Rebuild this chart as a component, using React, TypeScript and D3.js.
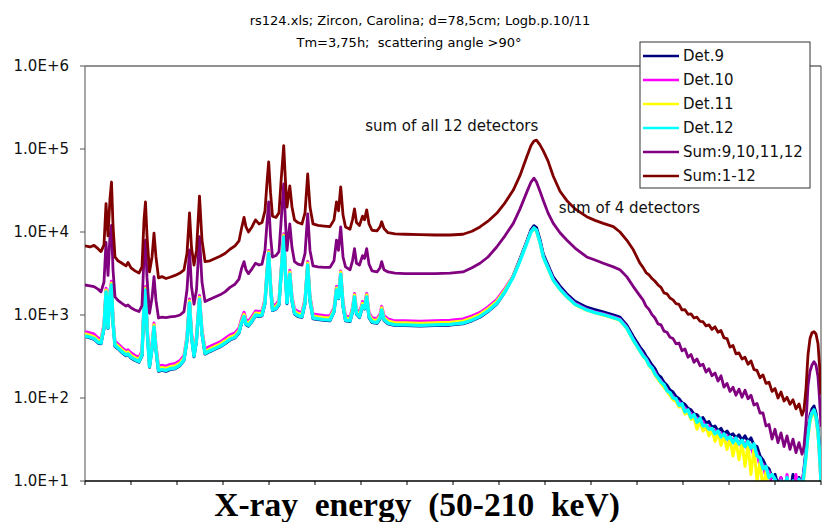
import React from 'react';
import * as d3 from 'd3';

// X-ray energy grid (keV)
const energy = [
  50.0, 51.09, 51.96, 52.83, 53.48, 54.13, 54.57, 55.0, 55.43, 55.76,
  56.09, 56.52, 57.17, 58.04, 58.91, 59.35, 60.0, 60.87, 61.74, 62.39,
  62.83, 63.15, 63.48, 64.02, 64.57, 65.0, 65.43, 65.98, 66.74, 67.61,
  68.48, 69.57, 70.65, 71.52, 72.17, 72.72, 73.15, 73.7, 74.24, 74.89,
  75.43, 76.09, 77.17, 78.26, 79.35, 80.43, 81.52, 82.61, 83.48, 84.02,
  84.57, 85.0, 85.54, 86.3, 87.07, 87.83, 88.48, 89.13, 89.57, 89.93,
  90.33, 90.76, 91.52, 92.17, 92.61, 93.2, 93.59, 93.91, 94.52, 95.0,
  95.54, 96.3, 97.17, 97.83, 98.41, 98.91, 99.57, 100.65, 101.96, 103.26,
  104.13, 104.67, 105.11, 105.59, 106.09, 106.63, 107.61, 108.15, 108.59, 109.02,
  109.67, 110.33, 110.76, 111.24, 111.74, 112.39, 113.48, 114.13, 114.5, 115.0,
  115.87, 117.39, 119.57, 122.83, 126.09, 129.35, 132.17, 134.13, 135.87, 137.61,
  139.5, 141.3, 143.11, 144.57, 146.02, 146.96, 147.61, 148.15, 148.91, 149.63,
  150.65, 151.8, 153.26, 154.72, 156.52, 159.07, 160.87, 162.67, 164.85, 166.3,
  167.76, 169.2,
  170.65, 171.3, 171.96, 172.61, 173.26, 173.91, 174.57, 175.22, 175.87, 176.52,
  177.17, 177.83, 178.48, 179.13, 179.78, 180.43, 181.09, 181.74, 182.39, 183.04,
  183.7, 184.35, 185.0, 185.65, 186.3, 186.96, 187.61, 188.26, 188.91, 189.57,
  190.22, 190.87, 191.52, 192.17, 192.83, 193.48, 194.13, 194.78, 195.43, 196.09,
  196.74, 197.39, 198.04, 198.7, 199.35, 200.0, 200.65, 201.3, 201.96, 202.61,
  203.26, 203.91, 204.57, 205.22, 205.87,
  206.3, 206.74, 207.17, 207.61, 208.04, 208.48, 208.91, 209.35, 209.67, 210.0,
];

const sumAll = [
  6800, 6600, 6900, 6300, 5800, 7000, 22000, 9000, 25000, 40000,
  12000, 5000, 4500, 4200, 3900, 4300, 3700, 3400, 3200, 3800,
  14000, 23000, 9000, 3300, 5000, 9700, 5000, 2800, 2900, 2750,
  2850, 3000, 3200, 3500, 5500, 17000, 6500, 4000, 6000, 27000,
  8000, 4400, 4500, 4800, 5100, 5500, 6200, 6800, 7800, 11000,
  15000, 11500, 10000, 11500, 14000, 12500, 13000, 18000, 40000, 70000,
  30000, 15500, 15000, 17000, 40000, 110000, 40000, 20000, 36000, 20000,
  14000, 13000, 12500, 17000, 50000, 20000, 12500, 12000, 11800, 11600,
  14000, 23000, 18000, 35000, 16000, 11500, 10800, 14000, 19000, 13000,
  12000, 15500, 14000, 18500, 12500, 10500, 10300, 11500, 13300, 11000,
  9800, 9500, 9400, 9300, 9200, 9200, 9400, 10200, 11500, 13500,
  16800, 22500, 32000, 48000, 80000, 110000, 125000, 128000, 112000, 95000,
  72000, 47000, 31000, 24000, 19000, 15300, 13800, 12700, 11600, 10000,
  8000, 6100,
  4200, 3750, 3250, 3050, 2750, 2550, 2300, 2150, 1850, 1800,
  1600, 1520, 1370, 1340, 1150, 1160, 1020, 1030, 920, 940,
  840, 830, 740, 760, 670, 720, 620, 650, 530, 520,
  410, 430, 340, 350, 295, 310, 255, 280, 220, 215,
  175, 190, 150, 155, 120, 130, 100, 118, 92, 102,
  84, 95, 74, 85, 62,
  72, 130, 330, 520, 610, 630, 590, 450, 250, 110,
];

const sum4 = [
  2300, 2250, 2200, 2050, 1900, 2500, 7500, 3000, 9000, 12000,
  3500, 1650, 1500, 1380, 1280, 1320, 1220, 1150, 1100, 1300,
  5000, 8000, 2800, 1050, 1600, 2900, 1500, 920, 940, 930,
  950, 960, 1000, 1100, 2000, 6100, 2200, 1350, 2000, 8800,
  2500, 1450, 1550, 1650, 1750, 1900, 2150, 2350, 2700, 3600,
  4400, 3500, 3150, 3600, 4200, 4000, 4100, 6000, 13000, 23000,
  9000, 5000, 5200, 5800, 13000, 38000, 13000, 6000, 12500, 6500,
  4400, 4100, 4000, 5500, 16500, 6000, 3900, 3800, 3750, 3750,
  4500, 8000, 6000, 11500, 5000, 3800, 3500, 4500, 6300, 4200,
  4000, 5200, 4800, 6300, 4100, 3400, 3300, 3700, 4400, 3500,
  3300, 3200, 3150, 3150, 3150, 3200, 3300, 3700, 4200, 5000,
  6600, 9000, 12700, 19000, 30000, 40000, 44500, 40000, 31000, 24000,
  17000, 12700, 9800, 8000, 6400, 5000, 4600, 4200, 3800, 3500,
  2900, 2200,
  1700, 1520, 1280, 1170, 1010, 920, 780, 760, 640, 620,
  540, 520, 450, 460, 370, 390, 310, 335, 270, 295,
  245, 255, 205, 225, 185, 200, 160, 185, 135, 150,
  120, 135, 108, 128, 102, 124, 98, 108, 82, 86,
  66, 66, 46, 48, 32, 42, 29, 38, 26, 35,
  24, 32, 22, 29, 21,
  26, 50, 140, 210, 250, 274, 250, 180, 100, 45,
];

const det9 = [
  550, 530, 510, 460, 450, 690, 1860, 690, 1760, 2250,
  785, 420, 392, 353, 323, 333, 304, 284, 270, 323,
  1270, 1960, 690, 235, 392, 705, 372, 210, 216, 210,
  220, 225, 245, 284, 490, 1370, 540, 314, 490, 1520,
  590, 338, 363, 387, 412, 450, 500, 530, 608, 785,
  940, 765, 735, 833, 980, 960, 980, 1370, 3140, 5400,
  2160, 1130, 1180, 1320, 2940, 8500, 2940, 1370, 3040, 1470,
  1030, 960, 940, 1370, 3920, 1470, 900, 880, 862, 853,
  1080, 1960, 1570, 3040, 1270, 853, 833, 1080, 1620, 1030,
  930, 1270, 1180, 1620, 930, 813, 794, 900, 1130, 862,
  784, 745, 745, 735, 745, 755, 784, 853, 940, 1100,
  1350, 1900, 3000, 4750, 7700, 10600, 11900, 11300, 8100, 5400,
  4000, 2850, 2220, 1800, 1460, 1240, 1160, 1090, 1005, 940,
  760, 550,
  410, 370, 320, 285, 250, 225, 190, 178, 155, 142,
  125, 118, 104, 98, 88, 84, 75, 72, 64, 63,
  56, 58, 50, 52, 44, 46, 40, 43, 37, 40,
  35, 37, 33, 36, 31, 35, 30, 33, 27, 26,
  20, 18, 15, 14, 11, 12, 9, 11, 8, 11,
  7, 12, 8, 11, 9,
  14, 24, 42, 62, 74, 80, 66, 44, 25, 11,
];

const det10 = [
  630, 610, 590, 530, 515, 780, 2100, 790, 2000, 2550,
  900, 485, 450, 405, 370, 380, 350, 325, 310, 370,
  1450, 2200, 790, 270, 450, 800, 430, 242, 248, 242,
  254, 260, 282, 326, 560, 1560, 620, 360, 560, 1720,
  675, 390, 418, 446, 474, 520, 575, 610, 700, 900,
  1080, 880, 845, 955, 1120, 1100, 1120, 1570, 3550, 6000,
  2450, 1290, 1345, 1510, 3350, 9500, 3350, 1570, 3450, 1680,
  1180, 1100, 1075, 1570, 4400, 1680, 1030, 1010, 985, 975,
  1230, 2200, 1790, 3400, 1450, 975, 950, 1230, 1820, 1175,
  1065, 1450, 1345, 1820, 1065, 930, 905, 1030, 1270, 985,
  895, 850, 850, 840, 850, 862, 895, 975, 1075, 1250,
  1530, 2100, 2960, 4600, 7400, 10100, 11100, 10300, 7500, 5050,
  3750, 2680, 2090, 1700, 1380, 1170, 1090, 1030, 950, 890,
  715, 510,
  380, 335, 300, 260, 228, 205, 172, 162, 138, 128,
  110, 106, 92, 90, 78, 76, 66, 65, 56, 57,
  48, 52, 42, 46, 38, 41, 34, 38, 31, 35,
  28, 32, 26, 30, 25, 29, 23, 26, 20, 22,
  15, 16, 11, 13, 9, 10, 7, 11, 6, 12,
  6, 7, 12, 5, 10,
  13, 21, 38, 58, 68, 70, 58, 38, 20, 9,
];

const det11 = [
  595, 572, 550, 498, 488, 740, 2000, 742, 1900, 2430,
  848, 456, 424, 382, 350, 360, 328, 307, 292, 350,
  1380, 2110, 742, 254, 424, 765, 403, 228, 233, 228,
  238, 244, 265, 307, 530, 1480, 583, 340, 530, 1640,
  636, 366, 392, 419, 445, 488, 540, 572, 657, 848,
  1020, 827, 795, 900, 1060, 1040, 1060, 1480, 3390, 5800,
  2330, 1220, 1270, 1430, 3180, 9200, 3180, 1480, 3290, 1590,
  1110, 1040, 1020, 1480, 4240, 1590, 975, 954, 933, 922,
  1170, 2120, 1700, 3290, 1380, 922, 900, 1170, 1750, 1110,
  1010, 1380, 1270, 1750, 1010, 880, 860, 975, 1220, 933,
  848, 805, 805, 795, 805, 816, 848, 922, 1020, 1190,
  1460, 2010, 2950, 4560, 7350, 10000, 11000, 10200, 7400, 4950,
  3650, 2600, 2020, 1650, 1330, 1140, 1060, 1000, 920, 860,
  690, 490,
  365, 320, 290, 245, 222, 190, 168, 150, 135, 120,
  108, 95, 92, 78, 80, 64, 68, 55, 58, 42,
  52, 40, 45, 35, 41, 30, 38, 27, 35, 24,
  32, 20, 31, 18, 29, 15, 27, 12, 25, 10,
  17, 8, 13, 7, 9, 6, 8, 5, 7, 5,
  6, 5, 6, 5, 7,
  11, 19, 34, 52, 62, 68, 56, 36, 20, 9,
];

const det12 = [
  560, 540, 520, 470, 460, 700, 1900, 700, 1800, 2300,
  800, 430, 400, 360, 330, 340, 310, 290, 275, 330,
  1300, 2000, 700, 240, 400, 720, 380, 215, 220, 215,
  225, 230, 250, 290, 500, 1400, 550, 320, 500, 1550,
  600, 345, 370, 395, 420, 460, 510, 540, 620, 800,
  960, 780, 750, 850, 1000, 980, 1000, 1400, 3200, 5500,
  2200, 1150, 1200, 1350, 3000, 8700, 3000, 1400, 3100, 1500,
  1050, 980, 960, 1400, 4000, 1500, 920, 900, 880, 870,
  1100, 2000, 1600, 3100, 1300, 870, 850, 1100, 1650, 1050,
  950, 1300, 1200, 1650, 950, 830, 810, 920, 1150, 880,
  800, 760, 760, 750, 760, 770, 800, 870, 960, 1120,
  1380, 1900, 2880, 4500, 7300, 10000, 11200, 10500, 7500, 5000,
  3700, 2630, 2050, 1670, 1350, 1150, 1070, 1010, 930, 870,
  700, 500,
  370, 325, 295, 250, 230, 195, 175, 155, 145, 122,
  116, 100, 98, 82, 85, 68, 72, 58, 63, 51,
  57, 46, 47, 42, 43, 37, 40, 34, 37, 32,
  34, 29, 33, 28, 31, 26, 30, 25, 28, 20,
  19, 14, 15, 11, 12, 10.5, 9, 10, 8, 11,
  7, 10, 7, 10.5, 8,
  12, 20, 36, 55, 66, 72, 60, 40, 22, 10,
];

const seriesNames = ['Det.9', 'Det.10', 'Det.11', 'Det.12', 'Sum:9,10,11,12', 'Sum:1-12'];
const seriesColors = ['#000080', '#FF00FF', '#FFFF00', '#00FFFF', '#800080', '#800000'];
const seriesValues = [det9, det10, det11, det12, sum4, sumAll];

const yTicks = [10, 100, 1000, 10000, 100000, 1000000];
const yTickLabels = ['1.0E+1', '1.0E+2', '1.0E+3', '1.0E+4', '1.0E+5', '1.0E+6'];
const xTicks = [50, 60, 70, 80, 90, 100, 110, 120, 130, 140, 150, 160, 170, 180, 190, 200, 210];

const titleLines = ['rs124.xls; Zircon, Carolina; d=78,5cm; Logb.p.10/11', 'Tm=3,75h;  scattering angle >90°'];
const xAxisTitle = 'X-ray  energy  (50-210  keV)';
const annotations = [
  { text: 'sum of all 12 detectors', e: 110.9, v: 165000 },
  { text: 'sum of 4 detectors', e: 153.0, v: 16900 },
];

export default function App() {
  const left = 85, right = 821, top = 66, bottom = 481;
  const x = d3.scaleLinear().domain([50, 210]).range([left, right]);
  const y = d3.scaleLog().domain([10, 1e6]).range([bottom, top]);
  const lineGen = d3
    .line<number>()
    .x((_, i) => x(energy[i]))
    .y((v) => y(Math.max(v, 1)));

  const sans = 'DejaVu Sans, Verdana, sans-serif';
  const legendX = 640, legendY = 42, legendW = 170, legendH = 146;
  const strokeW = [3, 3, 3, 3.4, 2.8, 2.8];

  return (
    <svg
      width={828}
      height={522}
      style={{ position: 'absolute', left: 0, top: 0, display: 'block', background: '#fff' }}
    >
      <defs>
        <clipPath id="plotClip">
          <rect x={left} y={top} width={right - left} height={bottom - top} />
        </clipPath>
      </defs>
      <rect x={0} y={0} width={828} height={522} fill="#fff" />

      {/* title */}
      {titleLines.map((t, i) => (
        <text
          key={i}
          x={i === 0 ? 420 : 409}
          y={25 + i * 22}
          textAnchor="middle"
          fontFamily={sans}
          fontSize={13}
          fill="#000"
          style={{ whiteSpace: 'pre' }}
        >
          {t}
        </text>
      ))}

      {/* plot frame */}
      <line x1={left} x2={right} y1={top} y2={top} stroke="#222" strokeWidth={1} />
      <line x1={right} x2={right} y1={top} y2={bottom} stroke="#444" strokeWidth={1} />
      <line x1={left} x2={left} y1={top} y2={bottom} stroke="#777" strokeWidth={1.3} />

      {/* y ticks */}
      {yTicks.map((t, i) => (
        <g key={t}>
          <line x1={left - 5} x2={left} y1={y(t)} y2={y(t)} stroke="#555" strokeWidth={1} />
          <text
            x={69}
            y={y(t)}
            dy="0.36em"
            textAnchor="end"
            fontFamily={sans}
            fontSize={15}
            fill="#111"
          >
            {yTickLabels[i]}
          </text>
        </g>
      ))}

      {/* series */}
      <g clipPath="url(#plotClip)">
        {seriesValues.map((vals, i) => (
          <path
            key={seriesNames[i]}
            d={lineGen(vals) || ''}
            fill="none"
            stroke={seriesColors[i]}
            strokeWidth={strokeW[i]}
            strokeLinejoin="round"
          />
        ))}
      </g>

      {/* x axis */}
      <line x1={left} x2={right} y1={bottom} y2={bottom} stroke="#000" strokeWidth={1.6} />
      {xTicks.map((t) => (
        <line key={t} x1={x(t)} x2={x(t)} y1={bottom} y2={bottom + 4} stroke="#000" strokeWidth={1} />
      ))}
      <text
        x={417}
        y={516}
        textAnchor="middle"
        fontFamily="Liberation Serif, Times New Roman, serif"
        fontWeight="bold"
        fontSize={33.5}
        fill="#000"
        style={{ whiteSpace: 'pre' }}
      >
        {xAxisTitle}
      </text>

      {/* annotations */}
      {annotations.map((a) => (
        <text key={a.text} x={x(a.e)} y={y(a.v)} fontFamily={sans} fontSize={15} fill="#111">
          {a.text}
        </text>
      ))}

      {/* legend */}
      <rect x={legendX} y={legendY} width={legendW} height={legendH} fill="#fff" stroke="#333" strokeWidth={1} />
      {seriesNames.map((n, i) => (
        <g key={n}>
          <line
            x1={legendX + 3}
            x2={legendX + 39}
            y1={legendY + 14 + i * 24}
            y2={legendY + 14 + i * 24}
            stroke={seriesColors[i]}
            strokeWidth={2.5}
          />
          <text
            x={legendX + 43}
            y={legendY + 14 + i * 24}
            dy="0.36em"
            fontFamily={sans}
            fontSize={15}
            fill="#111"
          >
            {n}
          </text>
        </g>
      ))}
    </svg>
  );
}
